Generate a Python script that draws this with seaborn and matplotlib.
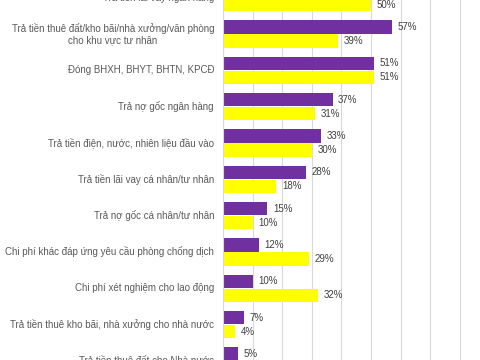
import pandas as pd
import matplotlib
matplotlib.use("Agg")
import matplotlib.pyplot as plt
import seaborn as sns

# Categories (top to bottom), visible part of a larger Excel-style chart
categories = [
    "Trả tiền lãi vay ngân hàng",
    "Trả tiền thuê đất/kho bãi/nhà xưởng/văn phòng\ncho khu vực tư nhân",
    "Đóng BHXH, BHYT, BHTN, KPCĐ",
    "Trả nợ gốc ngân hàng",
    "Trả tiền điện, nước, nhiên liệu đầu vào",
    "Trả tiền lãi vay cá nhân/tư nhân",
    "Trả nợ gốc cá nhân/tư nhân",
    "Chi phí khác đáp ứng yêu cầu phòng chống dịch",
    "Chi phí xét nghiệm cho lao động",
    "Trả tiền thuê kho bãi, nhà xưởng cho nhà nước",
    "Trả tiền thuê đất cho Nhà nước",
]
# first purple and last yellow values are cut off in the picture (estimates)
series_a = [63, 57, 51, 37, 33, 28, 15, 12, 10, 7, 5]
series_b = [50, 39, 51, 31, 30, 18, 10, 29, 32, 4, 3]
series_names = ["A", "B"]
colors = ["#7030A0", "#FFFF00"]

df = pd.DataFrame({
    "cat": categories * 2,
    "val": series_a + series_b,
    "grp": [series_names[0]] * len(categories) + [series_names[1]] * len(categories),
})

sns.set_theme(style="white")
plt.rcParams["font.family"] = ["Liberation Sans", "DejaVu Sans"]

fig = plt.figure(figsize=(4.8, 3.6), dpi=100)
# axes run past the figure edges: the reference is a crop of a taller chart
ax = fig.add_axes([223 / 480, 0, 296 / 480, 1])

sns.barplot(data=df, y="cat", x="val", hue="grp", orient="h",
            palette=colors, saturation=1, width=0.77, gap=0.04, linewidth=0,
            legend=False, ax=ax)

for cont in ax.containers:
    ax.bar_label(cont, fmt="%d%%", padding=4, fontsize=7, color="#404040")

ax.set_xlim(0, 100)
ax.set_xticks(range(0, 101, 10))
ax.set_ylim(9.975, 0.063)
ax.grid(axis="x", color="#D9D9D9", linewidth=0.8)
ax.set_axisbelow(True)
ax.tick_params(axis="x", bottom=False, labelbottom=False)
ax.tick_params(axis="y", left=False, length=0, labelleft=False)

# category labels drawn by hand so the half-cut first/last ones still show
for i, name in enumerate(categories):
    ax.annotate(name, xy=(0, i), xycoords=("axes fraction", "data"),
                xytext=(-9, 0), textcoords="offset pixels",
                ha="right", va="center", multialignment="center",
                fontsize=7, color="#595959", annotation_clip=False)

ax.set_xlabel("")
ax.set_ylabel("")
for s in ["top", "right", "bottom"]:
    ax.spines[s].set_visible(False)
ax.spines["left"].set_color("#D9D9D9")
ax.spines["left"].set_linewidth(0.8)

fig.savefig("out.png", dpi=100)
